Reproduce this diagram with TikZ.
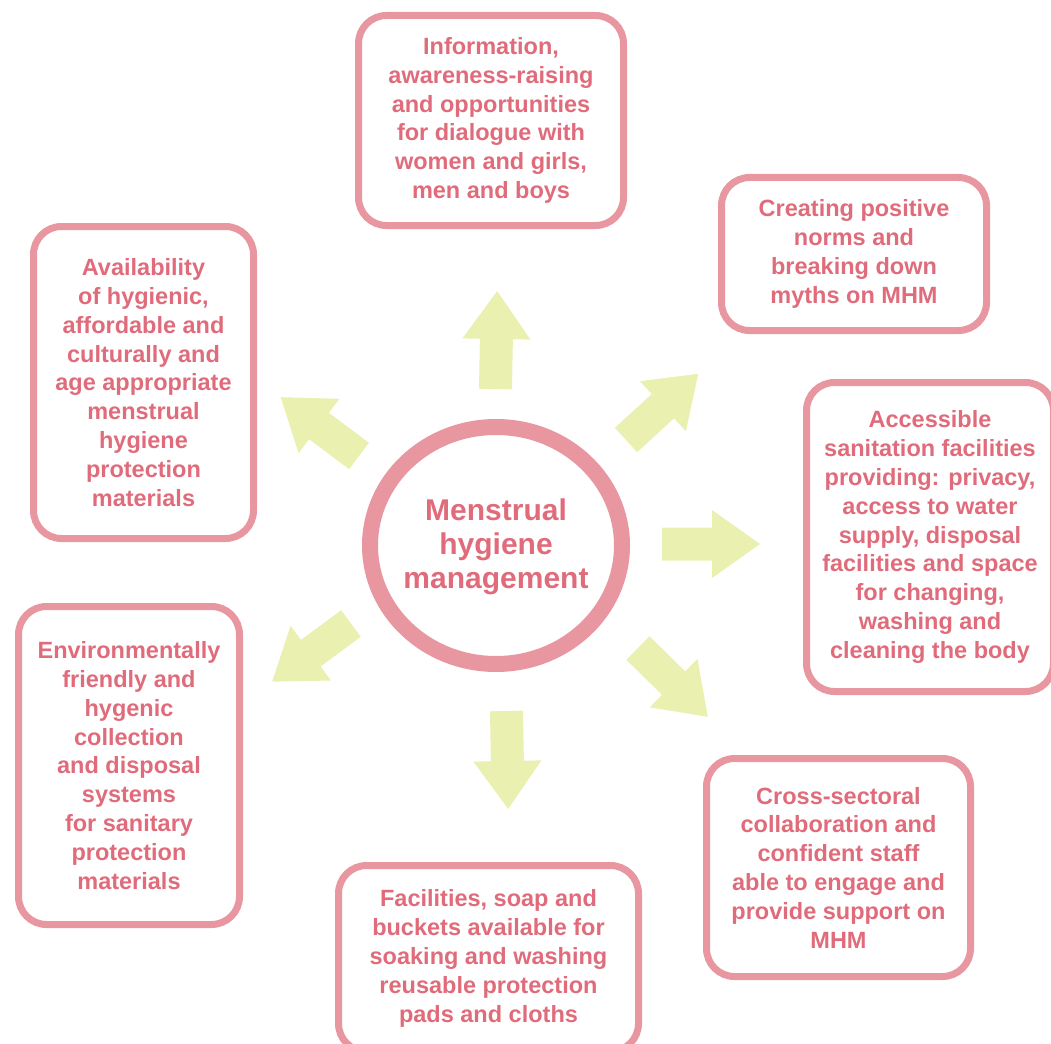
\documentclass[tikz,border=0pt]{standalone}
\usepackage{fontspec}
\setmainfont{Liberation Sans}
\usepackage{xcolor}
\usepackage{tikz}
\definecolor{bg}{HTML}{FFFFFF}
\definecolor{rose}{HTML}{E8969F}
\definecolor{rosetext}{HTML}{E06C7B}
\definecolor{lime}{HTML}{EAF0B0}
\tikzset{
  box/.style={draw=rose, line width=7pt, rounded corners=28pt, fill=bg,
    align=center, text=rosetext, inner sep=0pt,
    font=\fontsize{23.5}{28.8}\selectfont\bfseries},
  hub/.style={align=center, text=rosetext, inner sep=0pt,
    font=\fontsize{30}{34}\selectfont\bfseries},
  ring/.style={draw=rose, line width=16pt},
  blockarrow/.pic={
    \fill[lime] (0,-16.5) -- (50,-16.5) -- (50,-34) -- (98,0)
      -- (50,34) -- (50,16.5) -- (0,16.5) -- cycle;
  },
}

\begin{document}
\begin{tikzpicture}[x=1pt,y=-1pt]
  \useasboundingbox (0,0) rectangle (1051,1043);

  % centre
  \node[hub] (hub) at (496,547) {Menstrual\\hygiene\\management};
  \draw[ring] (496,545.5) ellipse [x radius=126, y radius=118.5];

  % boxes round the centre
  \node[box, minimum width=265, minimum height=210] (info) at (491,120.5)
    {Information,\\awareness-raising\\and opportunities\\for dialogue with\\women and girls,\\men and boys};
  \node[box, minimum width=265, minimum height=153] (norms) at (854,254)
    {Creating positive\\norms and\\breaking down\\myths on MHM};
  \node[box, minimum width=247, minimum height=309] (sanit) at (930,537)
    {Accessible\\sanitation facilities\\providing: privacy,\\access to water\\supply, disposal\\facilities and space\\for changing,\\washing and\\cleaning the body};
  \node[box, minimum width=264, minimum height=218] (staff) at (838.5,867.5)
    {Cross-sectoral\\collaboration and\\confident staff\\able to engage and\\provide support on\\MHM};
  \node[box, minimum width=300, minimum height=186] (soap) at (488.5,958.5)
    {Facilities, soap and\\buckets available for\\soaking and washing\\reusable protection\\pads and cloths};
  \node[box, minimum width=221, minimum height=318] (dispo) at (129,765.5)
    {Environmentally\\friendly and\\hygenic\\collection\\and disposal\\systems\\for sanitary\\protection\\materials};
  \node[box, minimum width=220, minimum height=312] (avail) at (143.5,382.5)
    {Availability\\of hygienic,\\affordable and\\culturally and\\age appropriate\\menstrual\\hygiene\\protection\\materials};

  % arrows out of the centre
  \coordinate (aN) at (495.5,389);
  \coordinate (aNE) at (626,440);
  \coordinate (aE) at (662,544);
  \coordinate (aSE) at (638,648);
  \coordinate (aS) at (506.5,711);
  \coordinate (aSW) at (351,623.5);
  \coordinate (aNW) at (359,456);
  \pic[rotate=89] at (aN) {blockarrow};
  \pic[rotate=42.5] at (aNE) {blockarrow};
  \pic at (aE) {blockarrow};
  \pic[rotate=-44.6] at (aSE) {blockarrow};
  \pic[rotate=-89] at (aS) {blockarrow};
  \pic[rotate=216.4] at (aSW) {blockarrow};
  \pic[rotate=143.1] at (aNW) {blockarrow};
\end{tikzpicture}
\end{document}
